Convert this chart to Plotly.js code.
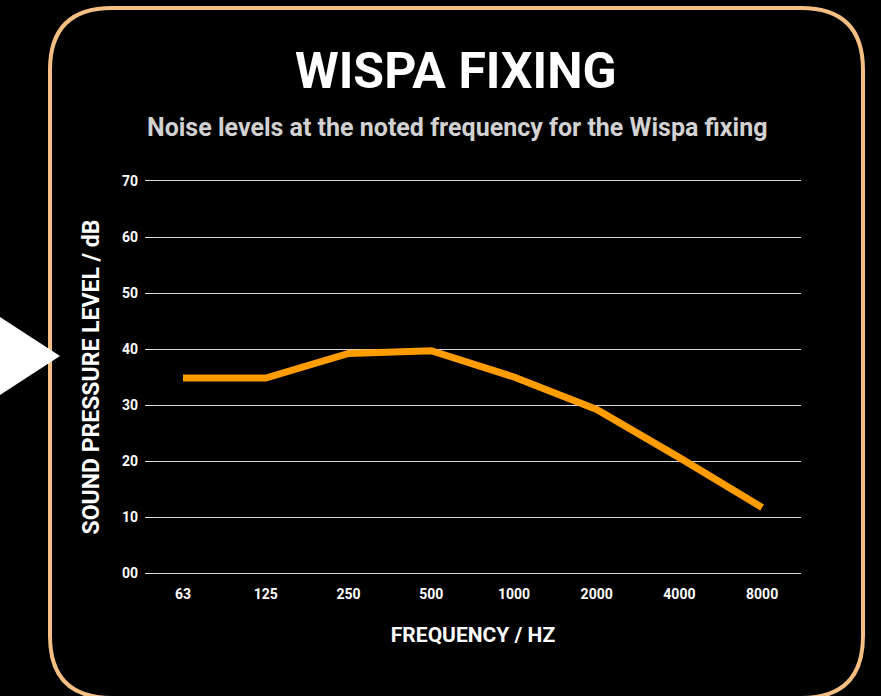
<!DOCTYPE html>
<html>
<head>
<meta charset="utf-8">
<script src="https://cdn.plot.ly/plotly-3.0.1.min.js"></script>
<style>
html,body{margin:0;padding:0;background:#000;}
#chart{width:881px;height:696px;}
</style>
</head>
<body>
<div id="chart"></div>
<script>
const categories = ['63','125','250','500','1000','2000','4000','8000'];
const values = [34.8, 34.8, 39.2, 39.7, 35.0, 29.2, 20.6, 11.7];
const yTickVals = [0,10,20,30,40,50,60,70];
const yTickText = ['00','10','20','30','40','50','60','70'];
const titleText = 'WISPA FIXING';
const subtitleText = 'Noise levels at the noted frequency for the Wispa fixing';
const xTitle = 'FREQUENCY / HZ';
const yTitle = 'SOUND PRESSURE LEVEL / dB';

const FONT = 'Roboto, "DejaVu Sans", sans-serif';

const trace = {
  type: 'scatter',
  mode: 'lines',
  x: categories,
  y: values,
  line: {color: '#FF9C00', width: 7},
  hoverinfo: 'x+y'
};

const layout = {
  width: 881,
  height: 696,
  paper_bgcolor: '#000000',
  plot_bgcolor: '#000000',
  margin: {l: 145, r: 80, t: 181, b: 123},
  showlegend: false,
  font: {family: FONT, color: '#ffffff'},
  xaxis: {
    type: 'category',
    range: [-0.46, 7.47],
    showgrid: false,
    zeroline: false,
    showline: true,
    mirror: true,
    linecolor: '#d8d8d8',
    linewidth: 1.3,
    ticks: '',
    tickfont: {family: FONT, size: 14, color: '#ffffff', weight: 'bold'},
    ticklabelstandoff: 8,
    title: {text: xTitle, font: {family: FONT, size: 21, color: '#ffffff', weight: 'bold'}, standoff: 26}
  },
  yaxis: {
    range: [0, 70],
    tickvals: yTickVals,
    ticktext: yTickText,
    showgrid: true,
    gridcolor: '#d8d8d8',
    gridwidth: 1.3,
    zeroline: false,
    showline: false,
    ticks: '',
    tickfont: {family: FONT, size: 14, color: '#ffffff', weight: 'bold'},
    ticklabelstandoff: 6,
    title: {text: yTitle, font: {family: FONT, size: 23, color: '#ffffff', weight: 'bold'}, standoff: 15}
  },
  annotations: [
    {text: titleText, xref: 'paper', yref: 'paper', x: (456-145)/656, y: 1 + (181-71)/392,
     xanchor: 'center', yanchor: 'middle', showarrow: false,
     font: {family: FONT, size: 50, color: '#ffffff', weight: 'bold'}},
    {text: subtitleText, xref: 'paper', yref: 'paper', x: (457-145)/656, y: 1 + (181-127)/392,
     xanchor: 'center', yanchor: 'middle', showarrow: false,
     font: {family: FONT, size: 25, color: '#d2d2d2', weight: 'bold'}}
  ]
};

function px2x(px){ return (px-145)/656; }
function py2y(py){ return 1 - (py-181)/392; }
const R = 62, L = 50, Rt = 863, T = 8, B = 698;
function pt(x,y){ return px2x(x).toFixed(5)+','+py2y(y).toFixed(5); }
const border = 'M'+pt(L+R,T)+' L'+pt(Rt-R,T)+
  ' Q'+pt(Rt,T)+' '+pt(Rt,T+R)+
  ' L'+pt(Rt,B-R)+' Q'+pt(Rt,B)+' '+pt(Rt-R,B)+
  ' L'+pt(L+R,B)+' Q'+pt(L,B)+' '+pt(L,B-R)+
  ' L'+pt(L,T+R)+' Q'+pt(L,T)+' '+pt(L+R,T)+' Z';
const arrow = 'M'+pt(0,317)+' L'+pt(60,356)+' L'+pt(0,395)+' Z';
layout.shapes = [
  {type:'path', xref:'paper', yref:'paper', layer:'below', path: border,
   line:{color:'#F5BE83', width:4}, fillcolor:'rgba(0,0,0,0)'},
  {type:'path', xref:'paper', yref:'paper', layer:'above', path: arrow,
   line:{width:0}, fillcolor:'#ffffff'}
];

Plotly.newPlot('chart', [trace], layout, {displayModeBar: false});
</script>
</body>
</html>
